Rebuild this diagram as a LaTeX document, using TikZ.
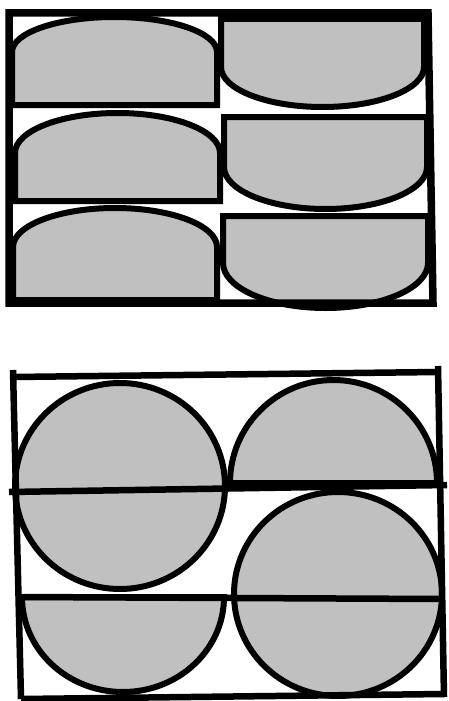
\documentclass[tikz,border=0pt]{standalone}
\usepackage{xcolor}
\usepackage{tikz}

\definecolor{slicegray}{RGB}{192,192,192}

\begin{document}
\begin{tikzpicture}[x=1pt, y=-1pt, line join=miter]
  \tikzstyle{slice}=[draw=black, fill=slicegray, line width=6pt]
  \tikzstyle{frame}=[draw=black, line width=7.5pt]
  \tikzstyle{cut}=[draw=black, line width=6.5pt]

  \useasboundingbox (0,0) rectangle (448,701);

  % upper packing: half-ellipse slabs
  \draw[slice] (12,105) -- (12,52)  arc[start angle=180, end angle=360, x radius=102.5, y radius=35] -- (217,105) -- cycle;
  \draw[slice] (15,201) -- (15,153) arc[start angle=180, end angle=360, x radius=102.5, y radius=40] -- (220,201) -- cycle;
  \draw[slice] (13,300) -- (13,247) arc[start angle=180, end angle=360, x radius=102,   y radius=39] -- (217,300) -- cycle;

  \draw[slice] (221,19)  -- (221,67)  arc[start angle=180, end angle=0, x radius=101.5, y radius=40] -- (424,19)  -- cycle;
  \draw[slice] (224,117) -- (224,167) arc[start angle=180, end angle=0, x radius=101.5, y radius=42] -- (427,117) -- cycle;
  \draw[slice] (223,216) -- (223,263) arc[start angle=180, end angle=0, x radius=102.5, y radius=45] -- (428,216) -- cycle;

  \draw[frame] (9,13) -- (428,13) -- (433,303) -- (9,303) -- cycle;

  % lower packing: discs cut by two lines
  \draw[slice] (120,486) ellipse[x radius=105, y radius=103];
  \draw[slice] (338,594) ellipse[x radius=104, y radius=102];
  \draw[slice] (230,483) arc[start angle=180, end angle=360, x radius=103.5, y radius=103] -- cycle;
  \draw[slice] (22,597)  arc[start angle=180, end angle=0,   x radius=101,   y radius=95] -- cycle;

  \draw[cut] (9,492) -- (447,485);
  \draw[cut] (22,597) -- (443,599);

  \draw[cut] (13,370) -- (21,699);
  \draw[cut] (438,366) -- (444,697);
  \draw[cut] (13,377) -- (438,372);
  \draw[cut] (21,699) -- (444,694);
\end{tikzpicture}
\end{document}
